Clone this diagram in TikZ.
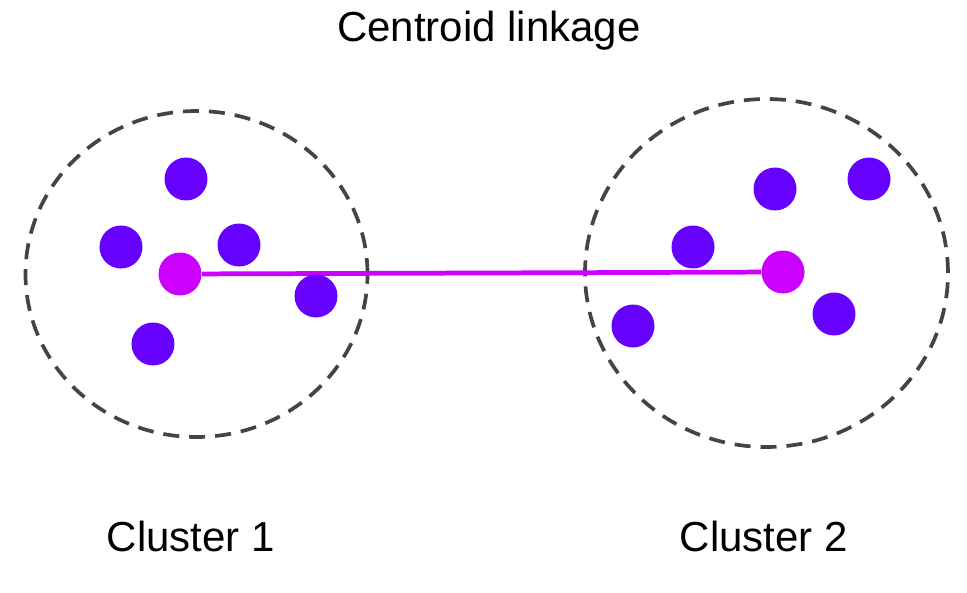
\documentclass[tikz,border=0pt]{standalone}
\usepackage{fontspec}
\setmainfont{Liberation Sans}
\usetikzlibrary{positioning}
\definecolor{dotviolet}{RGB}{102,0,255}
\definecolor{centmagenta}{RGB}{204,0,255}
\definecolor{ringgray}{RGB}{68,68,68}

\begin{document}
\begin{tikzpicture}[
        x=0.02cm, y=-0.02cm,
        point/.style={circle, fill=dotviolet, inner sep=0pt, minimum size=0.86cm},
        centroid/.style={circle, fill=centmagenta, inner sep=0pt, minimum size=0.86cm},
        ring/.style={draw=ringgray, line width=2.1pt, dash pattern=on 0.32cm off 0.2cm},
        link/.style={draw=centmagenta, line width=2.7pt},
        label/.style={font=\fontsize{23.9}{28}\selectfont, anchor=base}
    ]
        \useasboundingbox (0,0) rectangle (967,592);

        \node[label] (title) at (489,41) {Centroid linkage};

        % cluster outlines
        \draw[ring] (196.5,274) ellipse [x radius=171*0.02cm, y radius=163*0.02cm];
        \draw[ring] (766.5,273) ellipse [x radius=181.5*0.02cm, y radius=174*0.02cm];

        % link between centroids
        \node[centroid] (c1) at (180,274) {};
        \node[centroid] (c2) at (783,272) {};
        \draw[link] (c1) -- (c2);

        % cluster 1 points
        \node[point] (a1) at (186,179) {};
        \node[point] (a2) at (121,247) {};
        \node[point] (a3) at (239,245) {};
        \node[point] (a4) at (316,296) {};
        \node[point] (a5) at (153,344) {};

        % cluster 2 points
        \node[point] (b1) at (775,189) {};
        \node[point] (b2) at (869,179) {};
        \node[point] (b3) at (693,247) {};
        \node[point] (b4) at (834,314) {};
        \node[point] (b5) at (633,326) {};

        \node[label] (lab1) at (191,551) {Cluster 1};
        \node[label] (lab2) at (764,551) {Cluster 2};
    \end{tikzpicture}
\end{document}
